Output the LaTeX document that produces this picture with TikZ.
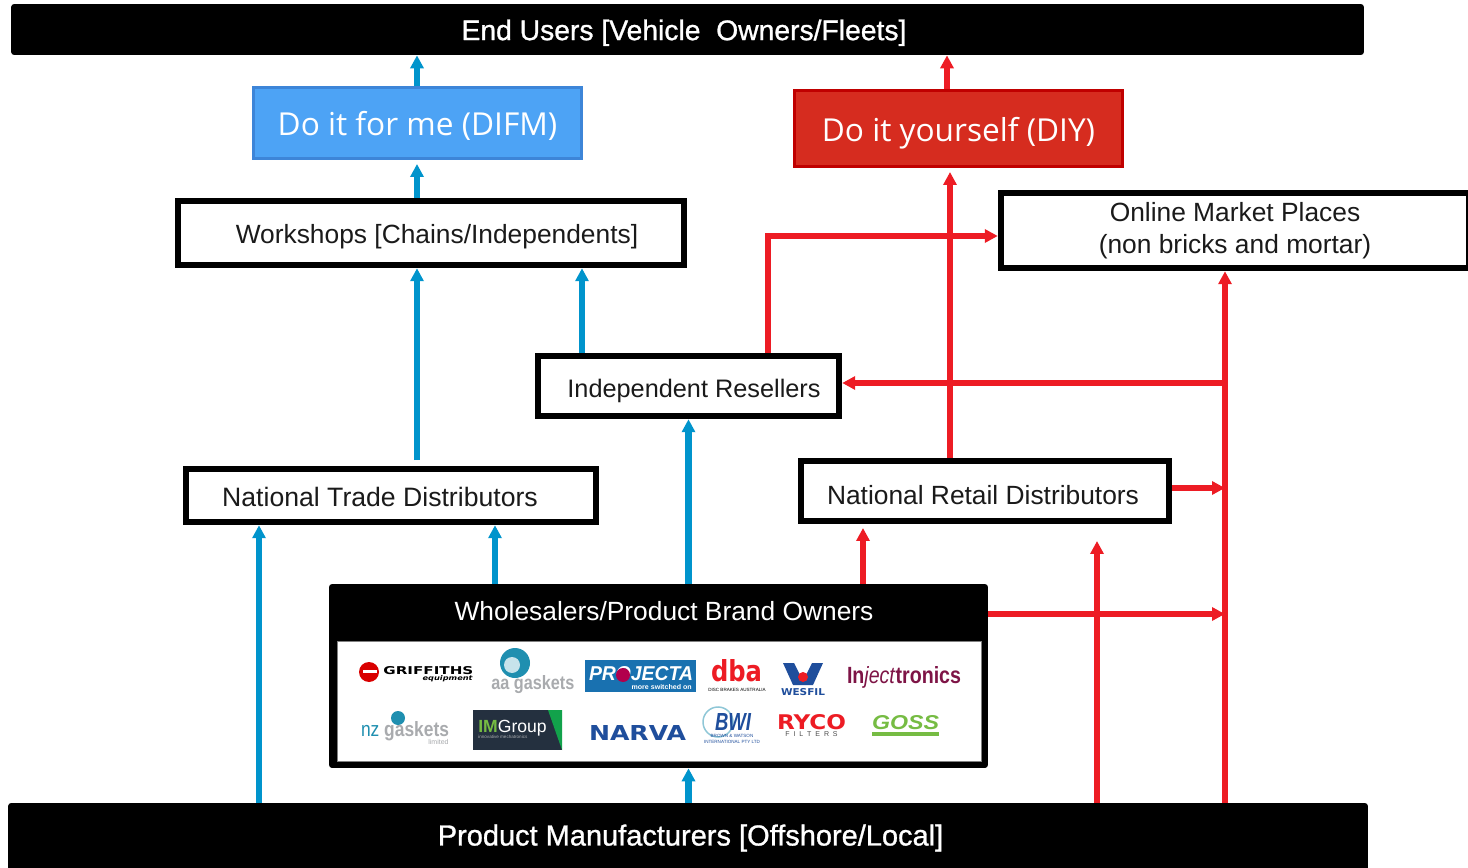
\documentclass[tikz,border=0pt]{standalone}
\usepackage{fontspec}
\setmainfont{Liberation Sans}
\newfontfamily\titlefont[FakeBold=1]{Liberation Sans}
\newfontfamily\difmfont{Open Sans}
\newfontfamily\logofont{DejaVu Sans}
\usetikzlibrary{arrows.meta, positioning}

\definecolor{flowblue}{HTML}{0094CC}
\definecolor{flowred}{HTML}{ED1C24}
\definecolor{difmfill}{HTML}{4DA3F5}
\definecolor{difmedge}{HTML}{3D85D8}
\definecolor{diyfill}{HTML}{D62C1F}
\definecolor{diyedge}{HTML}{C00000}
\definecolor{boxtext}{HTML}{1A1A1A}
\definecolor{logoblue}{HTML}{1F4E9C}
\definecolor{logoteal}{HTML}{1F8FB0}
\definecolor{logogray}{HTML}{A9ABAE}
\definecolor{logomaroon}{HTML}{7E1446}
\definecolor{logogreen}{HTML}{76BC43}
\definecolor{imdark}{HTML}{24303F}
\definecolor{imgreen}{HTML}{12A24B}

% logo lettering squeezed to a given width and height
\newdimen\logounit
\logounit=0.02cm
\newcommand{\logotext}[3]{\resizebox{#1\logounit}{#2\logounit}{#3}}
% text with its baseline a given distance below the node centre
\newcommand{\droptext}[2]{\raisebox{-#1\logounit}[0pt][0pt]{#2}}

\begin{document}
\begin{tikzpicture}[
    x=0.02cm,
    y=-0.02cm,
    blueflow/.style={
        line width=0.13cm,
        draw=flowblue,
        -{Triangle[width=0.26cm,length=0.26cm]},
    },
    redflow/.style={
        blueflow,
        draw=flowred,
    },
    blackbar/.style={
        fill=black,
        text=white,
        rounded corners=0.06cm,
        inner sep=0pt,
        font=\titlefont\fontsize{16.5}{20}\selectfont,
    },
    framebox/.style={
        draw=black,
        fill=white,
        line width=0.13cm,
        text=boxtext,
        inner sep=0pt,
        align=center,
        font=\fontsize{15}{18.5}\selectfont,
    },
    choicebox/.style={
        inner sep=0pt,
        line width=0.05cm,
        text=white,
        font=\difmfont\fontsize{18}{22}\selectfont,
    },
    logo/.style={
        inner sep=0pt,
        font=\logofont\bfseries,
    },
    tinytext/.style={
        inner sep=0pt,
        font=\fontsize{2.6}{3}\selectfont,
    },
]
    \useasboundingbox (0,0) rectangle (1468,868);

    % Tiers
    \node[blackbar, font=\titlefont\fontsize{16.1}{20}\selectfont, minimum width=27.06cm, minimum height=1.02cm] (endusers) at (687.5,29.5) {\droptext{10.6}{End Users [Vehicle\ \ Owners/Fleets]}\hspace*{0.14cm}};
    \node[blackbar, minimum width=27.2cm, minimum height=1.4cm] (manufacturers) at (688,838) {\hspace*{0.1cm}Product Manufacturers [Offshore/Local]};

    \node[choicebox, draw=difmedge, fill=difmfill, minimum width=6.57cm, minimum height=1.43cm] (difm) at (417.5,123) {\droptext{12.5}{Do it for me (DIFM)}};
    \node[choicebox, draw=diyedge, fill=diyfill, minimum width=6.57cm, minimum height=1.53cm] (diy) at (958.5,128.5) {\droptext{13}{Do it yourself (DIY)}};

    \node[framebox, minimum width=10.12cm, minimum height=1.28cm] (workshops) at (431,233) {\hspace*{0.24cm}\droptext{11}{Workshops [Chains/Independents]}};
    \node[framebox, minimum width=9.36cm, minimum height=1.5cm] (online) at (1235,230.5) {Online Market Places\\(non bricks and mortar)};
    \node[framebox, font=\fontsize{14.4}{18}\selectfont, minimum width=6.02cm, minimum height=1.2cm] (resellers) at (688.5,386) {\hspace*{0.22cm}\droptext{12}{Independent Resellers}};
    \node[framebox, font=\fontsize{15.15}{18}\selectfont, minimum width=8.2cm, minimum height=1.06cm] (ntd) at (391,495.5) {\droptext{10.5}{National Trade Distributors}\hspace*{0.44cm}};
    \node[framebox, minimum width=7.36cm, minimum height=1.2cm] (nrd) at (985,491) {\droptext{13.5}{National Retail Distributors}\hspace*{0.08cm}};

    % Wholesalers with their brands
    \node[fill=black, rounded corners=0.06cm, inner sep=0pt, minimum width=13.18cm, minimum height=3.68cm] (wholesalers) at (658.5,676) {};
    \node[inner sep=0pt, text=white, font=\fontsize{15}{18}\selectfont] (wholesalerstitle) at (664,611) {Wholesalers/Product Brand Owners};
    \node[fill=white, draw=gray, line width=0.01cm, inner sep=0pt, minimum width=12.88cm, minimum height=2.4cm] (logopanel) at (659,701) {};

    % First row of brands
    \fill[red!85!black] (369,672) circle (10);
    \fill[white] (363,670) rectangle (377,673);
    \node[logo, anchor=west] (griffiths) at (383,671) {\logotext{90}{8}{GRIFFITHS}};
    \node[logo, anchor=east] (griffithssub) at (473,679) {\logotext{50}{5}{\itshape equipment}};
    \fill[logoteal] (515,663) circle (15);
    \fill[white!75!logoteal] (512,665) circle (8);
    \node[logo, text=logogray, anchor=west, font=\bfseries] (aagaskets) at (491,685) {\logotext{83}{14}{aa gaskets}};
    \node[fill=logoblue!80!cyan, inner sep=0pt, minimum width=2.22cm, minimum height=0.64cm] (projectabox) at (640.5,676) {};
    \node[logo, text=white, font=\bfseries\itshape] (projecta) at (641,674) {\logotext{104}{14}{PROJECTA}};
    \fill[red!70!blue] (623,675) circle (7);
    \node[logo, text=white, anchor=east, font=\bfseries] (projectasub) at (692,687) {\logotext{60}{5}{more switched on}};
    \node[logo, text=flowred] (dba) at (736.5,671) {\logotext{51}{22}{dba}};
    \node[tinytext] (dbasub) at (737,689.5) {DISC BRAKES AUSTRALIA};
    \fill[logoblue] (783,663) -- (794,663) -- (803,681) -- (812,663) -- (823,663) -- (813,685) -- (793,685) -- cycle;
    \fill[flowred] (803,677) circle (5);
    \node[logo, text=logoblue] (wesfil) at (803,692) {\logotext{44}{7}{WESFIL}};
    \node[logo, text=logomaroon, font=\rmfamily\bfseries] (injectronics) at (904,677) {\logotext{114}{17}{In\textit{\mdseries ject}tronics}};

    % Second row of brands
    \fill[logoteal] (398,718) circle (7);
    \node[logo, text=logogray, font=\bfseries] (nzgaskets) at (405,731) {\logotext{88}{15}{\textcolor{logoteal}{\mdseries nz} gaskets}};
    \node[tinytext, text=logogray, anchor=east, font=\fontsize{4}{5}\selectfont] (nzlimited) at (449,742) {limited};
    \fill[imdark] (473,710) rectangle (562,750);
    \fill[imgreen] (548,710) -- (562,710) -- (562,750) -- cycle;
    \node[inner sep=0pt, text=white, anchor=west, font=\fontsize{10}{12}\selectfont] (imgroup) at (478,728) {\textcolor{logogreen}{\textbf{IM}}Group};
    \node[tinytext, text=logogray, anchor=west] (imsub) at (478,737) {innovative mechatronics};
    \node[logo, text=logoblue] (narva) at (637.5,733) {\logotext{97}{15}{NARVA}};
    \draw[logoteal!50, line width=0.03cm] (718,722) circle (15);
    \node[logo, text=logoblue, font=\bfseries\itshape] (bwi) at (733,722) {\logotext{36}{17}{BWI}};
    \node[tinytext, text=logoblue, align=center] (bwisub) at (732,739) {BROWN \& WATSON\\INTERNATIONAL PTY LTD};
    \node[logo, text=flowred] (ryco) at (811.5,722) {\logotext{69}{15}{RYCO}};
    \node[logo, text=black!70, font=\fontsize{4}{5}\selectfont] (rycosub) at (811.5,734.5) {F\ \ I\ \ L\ \ T\ \ E\ \ R\ \ S};
    \node[logo, text=logogreen, font=\bfseries\itshape] (goss) at (905.5,723) {\logotext{67}{14}{GOSS}};
    \fill[logogreen] (872,732) rectangle (939,736);

    % Free ends and tap points
    \coordinate (ntdstart) at (417,460);
    \coordinate (workshopsin) at (582,0);
    \coordinate (ntdleft) at (259,0);
    \coordinate (ntdright) at (495,0);
    \coordinate (diycolumn) at (950,458);
    \coordinate (diytop) at (947,0);
    \coordinate (onlinein) at (768,236);
    \coordinate (trunk) at (1225,0);
    \coordinate (resellerstap) at (1225,383);
    \coordinate (nrdtap) at (1225,488);
    \coordinate (wholesalerstap) at (1225,614);
    \coordinate (nrdin) at (863,528);
    \coordinate (boxfeed) at (1097,541);
    \coordinate (diyend) at (950,172);
    \coordinate (difmend) at (417,164);

    % Blue flows
    \draw[blueflow] (difm.north -| difmend) -- (endusers.south -| difmend);
    \draw[blueflow] (workshops.north -| difmend) -- (difmend);
    \draw[blueflow] (ntdstart) -- (workshops.south -| ntdstart);
    \draw[blueflow] (resellers.north -| workshopsin) -- (workshops.south -| workshopsin);
    \draw[blueflow] (wholesalers.north -| resellers.south) -- (resellers.south);
    \draw[blueflow] (wholesalers.north -| ntdright) -- (ntd.south -| ntdright);
    \draw[blueflow] (manufacturers.north -| ntdleft) -- (ntd.south -| ntdleft);
    \draw[blueflow] (manufacturers.north -| resellers.south) -- (wholesalers.south -| resellers.south);

    % Red flows
    \draw[redflow] (diy.north -| diytop) -- (endusers.south -| diytop);
    \draw[redflow] (diycolumn) -- (diyend);
    \draw[redflow] (resellers.north -| onlinein) -- (onlinein) -- (online.west |- onlinein);
    \draw[redflow] (manufacturers.north -| trunk) -- (online.south -| trunk);
    \draw[redflow] (resellerstap) -- (resellers.east |- resellerstap);
    \draw[redflow] (nrd.east |- nrdtap) -- (nrdtap);
    \draw[redflow] (wholesalers.east |- wholesalerstap) -- (wholesalerstap);
    \draw[redflow] (wholesalers.north -| nrdin) -- (nrdin);
    \draw[redflow] (manufacturers.north -| boxfeed) -- (boxfeed);
\end{tikzpicture}
\end{document}
